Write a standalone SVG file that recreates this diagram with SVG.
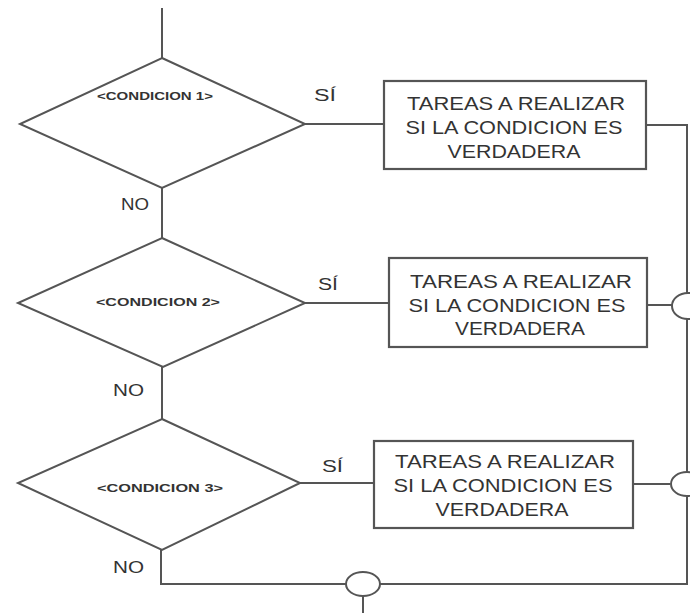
<svg xmlns="http://www.w3.org/2000/svg" width="690" height="613" viewBox="0 0 690 613">
<style>
.ln{fill:none;stroke:#555;stroke-width:2}
.dm{fill:#fff;stroke:#555;stroke-width:2}
.bx{fill:#fff;stroke:#555;stroke-width:2.2}
.jn{fill:#fff;stroke:#555;stroke-width:2}
.t{font-family:"Liberation Sans",Arial,sans-serif;fill:#333}
.bt{font-size:18px;text-anchor:middle}
.ct{font-size:10.5px;text-anchor:middle;font-weight:bold}
.lb{font-size:16px}
</style>
<rect width="690" height="613" fill="#fff"/>
<g id="connectors">
<path class="ln" d="M162,8 V58"/>
<path class="ln" d="M162,188 V238"/>
<path class="ln" d="M162,367 V419"/>
<path class="ln" d="M161,550 V584 H346"/>
<path class="ln" d="M380,584 H687 V140"/>
<path class="ln" d="M305,124 H384"/>
<path class="ln" d="M646,125 H687 V140"/>
<path class="ln" d="M305,303 H389"/>
<path class="ln" d="M647,305 H672"/>
<path class="ln" d="M300,483 H374"/>
<path class="ln" d="M633,484 H670"/>
<path class="ln" d="M363,596 V613"/>
<ellipse class="jn" cx="688" cy="306" rx="16" ry="13"/>
<ellipse class="jn" cx="687" cy="484" rx="16" ry="12"/>
<ellipse class="jn" cx="363" cy="584" rx="17" ry="12"/>
<text class="t lb" x="314" y="101" textLength="22" lengthAdjust="spacingAndGlyphs">SÍ</text>
<text class="t lb" x="318" y="290" textLength="20" lengthAdjust="spacingAndGlyphs">SÍ</text>
<text class="t lb" x="322" y="472" textLength="21" lengthAdjust="spacingAndGlyphs">SÍ</text>
<text class="t lb" x="121" y="210" textLength="28" lengthAdjust="spacingAndGlyphs">NO</text>
<text class="t lb" x="113" y="396" textLength="31" lengthAdjust="spacingAndGlyphs">NO</text>
<text class="t lb" x="113" y="573" textLength="31" lengthAdjust="spacingAndGlyphs">NO</text>
</g>
<g id="cond1">
<polygon class="dm" points="162,58 305,124 162,188 20,124"/>
<text class="t ct" x="155" y="100" textLength="116" lengthAdjust="spacingAndGlyphs">&lt;CONDICION 1&gt;</text>
</g>
<g id="cond2">
<polygon class="dm" points="162,238 305,303 163,367 18,303"/>
<text class="t ct" x="158" y="306" textLength="124" lengthAdjust="spacingAndGlyphs">&lt;CONDICION 2&gt;</text>
</g>
<g id="cond3">
<polygon class="dm" points="162,419 300,483 162,550 18,483"/>
<text class="t ct" x="160" y="492" textLength="126" lengthAdjust="spacingAndGlyphs">&lt;CONDICION 3&gt;</text>
</g>
<g id="task1">
<rect class="bx" x="384" y="81" width="262" height="88"/>
<text class="t bt" x="516" y="110" textLength="218" lengthAdjust="spacingAndGlyphs">TAREAS A REALIZAR</text>
<text class="t bt" x="514" y="134" textLength="217" lengthAdjust="spacingAndGlyphs">SI LA CONDICION ES</text>
<text class="t bt" x="514" y="158" textLength="133" lengthAdjust="spacingAndGlyphs">VERDADERA</text>
</g>
<g id="task2">
<rect class="bx" x="389" y="258" width="258" height="89"/>
<text class="t bt" x="521" y="288" textLength="222" lengthAdjust="spacingAndGlyphs">TAREAS A REALIZAR</text>
<text class="t bt" x="517" y="312" textLength="217" lengthAdjust="spacingAndGlyphs">SI LA CONDICION ES</text>
<text class="t bt" x="520" y="335" textLength="130" lengthAdjust="spacingAndGlyphs">VERDADERA</text>
</g>
<g id="task3">
<rect class="bx" x="374" y="441" width="259" height="87"/>
<text class="t bt" x="505" y="468" textLength="220" lengthAdjust="spacingAndGlyphs">TAREAS A REALIZAR</text>
<text class="t bt" x="503" y="492" textLength="219" lengthAdjust="spacingAndGlyphs">SI LA CONDICION ES</text>
<text class="t bt" x="502" y="516" textLength="133" lengthAdjust="spacingAndGlyphs">VERDADERA</text>
</g>
</svg>
